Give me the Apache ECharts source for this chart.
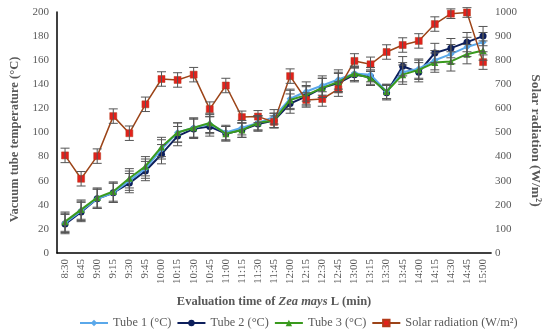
<!DOCTYPE html>
<html><head><meta charset="utf-8">
<script src="https://cdn.jsdelivr.net/npm/echarts@6/dist/echarts.min.js"></script>
<style>html,body{margin:0;padding:0;background:#fff}#c{width:550px;height:335px}</style>
</head><body><div id="c"></div>
<script>
var categories = ['8:30','8:45','9:00','9:15','9:30','9:45','10:00','10:15','10:30','10:45','11:00','11:15','11:30','11:45','12:00','12:15','12:30','12:45','13:00','13:15','13:30','13:45','14:00','14:15','14:30','14:45','15:00'];
var tube1 = [25,35,45,50,60,70,86,100,104,107,100,104,108,113,128,134,139,144,149,148,134,150,153,160,165,171,175];
var tube2 = [24,34,45,50,58,68,82,97,103,105,99,102,107,110,124,130,137,141,148,146,133,155,150,166,170,175,180];
var tube3 = [26,36,46,51,62,72,88,100,104,108,99,102,108,110,127,131,137,142,149,145,134,148,152,158,159,165,168];
var solar = [405,308,402,568,497,617,722,718,740,597,695,564,566,544,734,635,639,680,797,783,834,863,880,950,993,998,792];
var tubeErr1 = [8,8,8,8,8,8,8,8,8,8,6,6,6,6,8,8,8,8,6,6,6,8,8,8,8,8,8];
var tubeErr2 = [8,8,8,8,8,8,8,8,8,8,6,6,6,6,8,8,8,8,6,6,6,8,8,8,8,8,8];
var tubeErr3 = [8,8,8,8,8,8,8,8,8,8,6,6,6,6,8,8,8,8,6,6,6,8,8,8,8,8,8];
var solarErr = [30,30,30,30,30,30,30,30,30,30,30,25,25,25,30,30,30,30,30,30,30,30,30,30,20,20,30];
var leftTicks = {min:0,max:200,interval:20};
var rightTicks = {min:0,max:1000,interval:100};

function errData(vals, errs){ return vals.map(function(v,i){ return [i, v-errs[i], v+errs[i]]; }); }
function errSeries(vals, errs, axis){
  return {type:'custom', yAxisIndex:axis, silent:true, z:5,
    data: errData(vals, errs),
    renderItem:function(params, api){
      var x = api.value(0);
      var lo = api.coord([x, api.value(1)]);
      var hi = api.coord([x, api.value(2)]);
      var w = 4.5;
      var st = {stroke:'#555', lineWidth:1};
      return {type:'group', children:[
        {type:'line', shape:{x1:lo[0],y1:lo[1],x2:hi[0],y2:hi[1]}, style:st},
        {type:'line', shape:{x1:lo[0]-w,y1:lo[1],x2:lo[0]+w,y2:lo[1]}, style:st},
        {type:'line', shape:{x1:hi[0]-w,y1:hi[1],x2:hi[0]+w,y2:hi[1]}, style:st}
      ]};
    }};
}
var serif = 'Liberation Serif';
var chart = echarts.init(document.getElementById('c'), null, {renderer:'canvas'});
chart.setOption({
  animation:false,
  textStyle:{fontFamily:serif},
  grid:{left:50,right:48,top:12,bottom:82},
  legend:{bottom:1,left:74,itemWidth:28,itemHeight:8,itemGap:5,
    data:['Tube 1 (°C)','Tube 2 (°C)','Tube 3 (°C)','Solar radiation (W/m²)'],
    textStyle:{fontFamily:serif,fontSize:12.3,color:'#595959'}},
  xAxis:{type:'category',data:categories,boundaryGap:true,
    axisLine:{lineStyle:{color:'#000',width:1.5}},axisTick:{show:false},
    axisLabel:{rotate:90,fontSize:11,color:'#595959',fontFamily:serif,interval:0,margin:6},
    name:'{b|Evaluation time of }{bi|Zea mays}{b| L (min)}',nameLocation:'middle',nameGap:42,
    nameTextStyle:{rich:{b:{fontFamily:serif,fontWeight:'bold',fontSize:12.5,color:'#595959'},
      bi:{fontFamily:serif,fontWeight:'bold',fontStyle:'italic',fontSize:12.5,color:'#595959'}}}},
  yAxis:[
    {type:'value',min:leftTicks.min,max:leftTicks.max,interval:leftTicks.interval,
     splitLine:{show:false},axisLine:{show:true,lineStyle:{color:'#000',width:1.5}},axisTick:{show:false},
     axisLabel:{fontSize:11,color:'#595959',fontFamily:serif,margin:8},
     name:'Vacuum tube temperature (°C)',nameLocation:'middle',nameGap:36,
     nameTextStyle:{fontFamily:serif,fontWeight:'bold',fontSize:12.5,color:'#595959',padding:[0,14,0,0]}},
    {type:'value',min:rightTicks.min,max:rightTicks.max,interval:rightTicks.interval,position:'right',
     splitLine:{show:false},axisLine:{show:false},axisTick:{show:false},
     axisLabel:{fontSize:11,color:'#595959',fontFamily:serif,margin:4,formatter:function(v){return String(v);}},
     name:'Solar radiation (W/m²)',nameLocation:'middle',nameGap:36,nameRotate:-90,
     nameTextStyle:{fontFamily:serif,fontWeight:'bold',fontSize:13.5,color:'#595959',padding:[0,0,0,16]}}
  ],
  series:[
    {name:'Tube 1 (°C)',type:'line',data:tube1,yAxisIndex:0,symbol:'diamond',symbolSize:7,
     lineStyle:{color:'#5aa8ea',width:2},itemStyle:{color:'#5aa8ea'},z:3},
    {name:'Tube 2 (°C)',type:'line',data:tube2,yAxisIndex:0,symbol:'circle',symbolSize:7,
     lineStyle:{color:'#0d1f5c',width:2},itemStyle:{color:'#0d1f5c'},z:2},
    {name:'Tube 3 (°C)',type:'line',data:tube3,yAxisIndex:0,symbol:'triangle',symbolSize:7,
     lineStyle:{color:'#3a9a1e',width:2},itemStyle:{color:'#3a9a1e'},z:4},
    {name:'Solar radiation (W/m²)',type:'line',data:solar,yAxisIndex:1,symbol:'rect',symbolSize:7,
     lineStyle:{color:'#9c4418',width:1.5},itemStyle:{color:'#e3211c',borderColor:'#b33a1a',borderWidth:0.5},z:4},
    errSeries(tube1,tubeErr1,0),
    errSeries(tube2,tubeErr2,0),
    errSeries(tube3,tubeErr3,0),
    errSeries(solar,solarErr,1)
  ]
});
</script></body></html>
